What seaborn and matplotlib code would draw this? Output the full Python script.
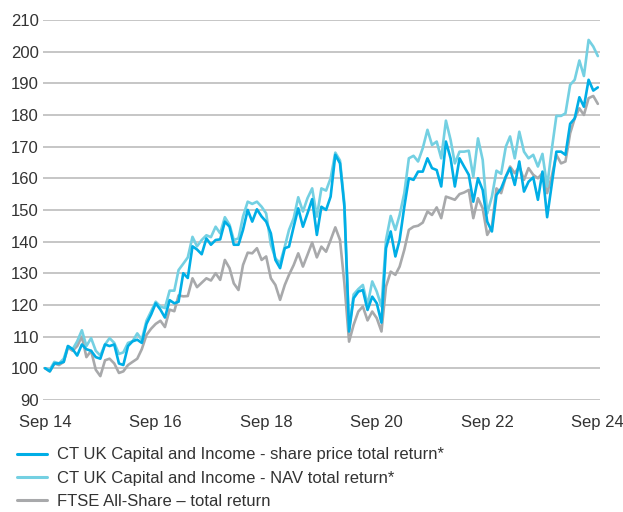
import numpy as np
import pandas as pd
import matplotlib
matplotlib.use("Agg")
import matplotlib.pyplot as plt
import matplotlib.dates as mdates
import seaborn as sns

# ---- data (monthly, Sep 2014 = 100) ----
share_price = [
    100, 99, 101.5, 101.5, 102, 107, 106, 104, 107.5, 106,
    105.5, 103.5, 103, 107.5, 107, 107.5, 101.5, 101, 107, 108.5,
    109, 108, 114, 117, 120.5, 118.5, 116, 121.5, 120.5, 121,
    130, 128.5, 138.5, 137.5, 136, 141, 139, 140.5, 140.7, 146.3,
    144.7, 139, 139, 143.7, 150, 146.3, 150.2, 147.9, 146.3, 142.6,
    134.2, 131.6, 137.9, 138.4, 144.7, 150.5, 144.7, 148.9, 153.4, 142.1,
    151, 150, 154.2, 167.4, 164.7, 151, 111.6, 122.1, 124.2, 124.7,
    118.4, 122.6, 120.5, 114.4, 137.9, 143.2, 135.3, 140.5, 151, 160,
    159.5, 162.1, 162.1, 166.3, 163.2, 162.6, 157.4, 171.6, 166.3, 157.4,
    166.3, 163.7, 161.1, 152.6, 160, 156.3, 146.3, 143.2, 154.7, 156.8,
    160.5, 163.2, 157.9, 165.3, 155.8, 158.9, 160.3, 153.2, 162.1, 147.7,
    157.9, 168.4, 168.4, 167.4, 177.2, 178.9, 185.6, 182.6, 191.1, 187.7,
    188.7,
]
nav = [
    100, 99.5, 102, 101.5, 103, 107, 106, 108.5, 112, 107,
    109.5, 105.5, 104, 107.5, 109.5, 108, 104.5, 105, 108, 108.5,
    111, 109, 115, 118, 121, 119.5, 119, 124.5, 124.5, 131,
    133, 135, 141.5, 138.5, 140.5, 142, 141.4, 144.7, 142.6, 147.7,
    145.3, 140.5, 141, 147.9, 152.6, 151.9, 152.6, 151, 148.9, 139,
    134.7, 133.2, 138.4, 143.7, 147.4, 154, 149.5, 153.7, 156.8, 147.9,
    156.8, 156.1, 160, 168.1, 165.6, 152.1, 112.2, 123.3, 125, 126.3,
    120, 127.4, 124.2, 119.5, 140.5, 148.1, 143.7, 148.4, 155.3, 166.3,
    167.1, 165.3, 169.5, 175.3, 170.5, 171.6, 166.3, 178.2, 172.1, 164.7,
    168.4, 168.4, 168.7, 160.5, 172.6, 165.8, 148.9, 154.2, 162.4, 161.4,
    170, 173.2, 166.3, 174.7, 168.4, 166.3, 167.4, 163.7, 167.7, 157.4,
    168.9, 179.7, 179.7, 180.5, 189.5, 191.1, 197.2, 192.3, 203.7, 201.6,
    198.6,
]
ftse = [
    100, 99, 101.5, 101, 102, 106.5, 105.5, 107, 110, 103.5,
    105.5, 99.5, 97.5, 102.5, 103, 101.5, 98.5, 99, 101, 102,
    103, 106, 110.5, 112.5, 114, 115, 113, 118.5, 118, 123,
    122.7, 122.8, 128.4, 125.6, 127, 128.4, 127.7, 130, 127.9, 134.2,
    131.6, 126.8, 124.7, 132.6, 136.5, 136.3, 137.9, 134.2, 135.3, 128.4,
    126.3, 121.6, 126.3, 129.5, 132.6, 136.3, 132.1, 135.8, 139.7, 135,
    138.4, 136.8, 140.5, 144.5, 140.5, 126.8, 108.4, 113.7, 117.9, 119.5,
    115.1, 117.9, 115.8, 111.6, 125.8, 130.5, 129.5, 132.1, 137.4, 143.7,
    144.7, 145, 146, 149.5, 148.4, 150.8, 147.4, 154.2, 153.7, 153.2,
    155, 155.5, 156.3, 147.4, 153.7, 150.5, 142.1, 144.7, 156.8, 155.3,
    160.5, 163.7, 161.6, 163.7, 159.5, 163.2, 161.1, 160, 161.6, 155.3,
    160.5, 167.4, 164.7, 165.3, 174.2, 178.9, 182.1, 180, 185.3, 186,
    183.5,
]
dates = pd.date_range("2014-09-30", periods=len(share_price), freq="ME")

labels = [
    "CT UK Capital and Income - share price total return*",
    "CT UK Capital and Income - NAV total return*",
    "FTSE All-Share \u2013 total return",
]
colors = ["#00aee6", "#74d0e2", "#a8a9ab"]
tick_years = [2014, 2016, 2018, 2020, 2022, 2024]
yticks = list(range(90, 211, 10))

df = pd.DataFrame({"date": dates, labels[0]: share_price, labels[1]: nav, labels[2]: ftse})

sns.set_theme(style="white")
plt.rcParams["font.family"] = ["Liberation Sans", "DejaVu Sans"]

fig = plt.figure(figsize=(6.23, 5.12), dpi=100)
ax = fig.add_axes([0.069, 0.219, 0.894, 0.742])

for idx in [2, 1, 0]:
    sns.lineplot(x=df["date"], y=df[labels[idx]], ax=ax, color=colors[idx],
                 linewidth=1.9, label=labels[idx], legend=False, zorder=3 + (2 - idx))

ax.set_ylim(90, 210)
ax.set_yticks(yticks)
ax.set_xlim(dates[0] - pd.Timedelta(days=14), dates[-1] + pd.Timedelta(days=14))
ax.set_xticks([pd.Timestamp(f"{y}-09-30") for y in tick_years])
ax.set_xticklabels([f"Sep {y % 100:02d}" for y in tick_years])
ax.set_xlabel("")
ax.set_ylabel("")
ax.grid(axis="y", color="#c6c6c6", linewidth=1.4)
ax.grid(axis="x", visible=False)
ax.set_axisbelow(True)
for s in ax.spines.values():
    s.set_visible(False)
ax.tick_params(axis="both", length=0, labelsize=12, colors="#333333")
ax.tick_params(axis="y", pad=3)
ax.tick_params(axis="x", pad=11)

handles = [plt.Line2D([], [], color=c, linewidth=2.2) for c in colors]
fig.legend(handles, labels, loc="upper left", bbox_to_anchor=(0.027, 0.126),
           frameon=False, fontsize=12, handlelength=1.8, handletextpad=0.6,
           labelspacing=0.5, borderaxespad=0, borderpad=0, labelcolor="#333333")

fig.savefig("out.png", dpi=100)
